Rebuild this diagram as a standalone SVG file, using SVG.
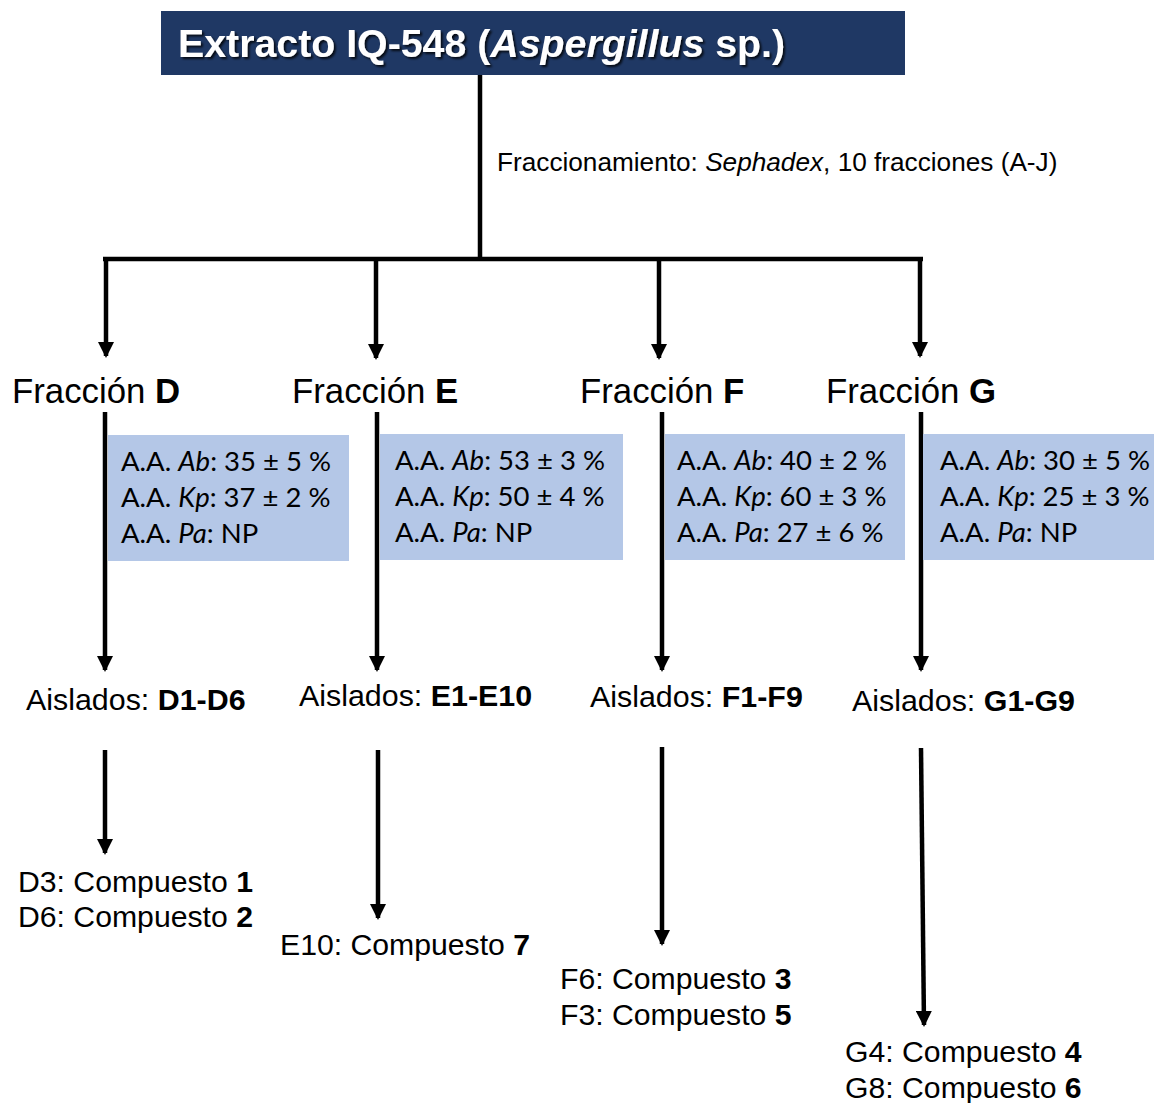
<svg xmlns="http://www.w3.org/2000/svg" width="1154" height="1103" viewBox="0 0 1154 1103">
<style>
.ar{font-family:"Liberation Sans",Arial,sans-serif;fill:#000}
.frac{font-size:34.8px}
.ais{font-size:30.4px}
.cmp{font-size:30.2px}
.box{fill:#b4c7e7}
.bt{font-family:Lato,"Open Sans",sans-serif;font-size:27.5px;fill:#000}
.ln{stroke:#000;stroke-width:4.5;fill:none}
</style>
<defs>
<marker id="ah" markerUnits="userSpaceOnUse" markerWidth="18" markerHeight="16" refX="14" refY="8" orient="auto">
<path d="M0,0 L16,8 L0,16 Z" fill="#000"/>
</marker>
<filter id="sh" x="-5%" y="-20%" width="110%" height="150%">
<feDropShadow dx="2" dy="2" stdDeviation="1.2" flood-color="#000" flood-opacity="0.8"/>
</filter>
</defs>
<rect width="1154" height="1103" fill="#fff"/>
<g id="connectors">
<line class="ln" x1="480" y1="75" x2="480" y2="259"/>
<line class="ln" x1="103" y1="259" x2="923" y2="259"/>
<line class="ln" x1="106" y1="257" x2="106" y2="356" marker-end="url(#ah)"/>
<line class="ln" x1="376" y1="257" x2="376" y2="358" marker-end="url(#ah)"/>
<line class="ln" x1="659" y1="257" x2="659" y2="358" marker-end="url(#ah)"/>
<line class="ln" x1="920" y1="257" x2="920" y2="356" marker-end="url(#ah)"/>
<line class="ln" x1="105" y1="412" x2="105" y2="670" marker-end="url(#ah)"/>
<line class="ln" x1="377" y1="412" x2="377" y2="670" marker-end="url(#ah)"/>
<line class="ln" x1="662" y1="412" x2="662" y2="670" marker-end="url(#ah)"/>
<line class="ln" x1="921" y1="412" x2="921" y2="670" marker-end="url(#ah)"/>
<line class="ln" x1="105" y1="750" x2="105" y2="853" marker-end="url(#ah)"/>
<line class="ln" x1="378" y1="750" x2="378" y2="918" marker-end="url(#ah)"/>
<line class="ln" x1="662" y1="747" x2="662" y2="944" marker-end="url(#ah)"/>
<line class="ln" x1="921" y1="748" x2="924" y2="1025" marker-end="url(#ah)"/>
<text class="ar" x="497" y="171" font-size="26.2">Fraccionamiento: <tspan font-style="italic">Sephadex</tspan>, 10 fracciones (A-J)</text>
</g>
<g id="title">
<rect x="161" y="11" width="744" height="64" fill="#1f3864"/>
<text x="178" y="57" font-family="Liberation Sans,Arial,sans-serif" font-size="39.3" font-weight="bold" fill="#fff" filter="url(#sh)">Extracto IQ-548 (<tspan font-style="italic">Aspergillus</tspan> sp.)</text>
</g>
<g id="boxes">
<rect class="box" x="108" y="435" width="241" height="126"/>
<rect class="box" x="380" y="434" width="243" height="126"/>
<rect class="box" x="665" y="434" width="240" height="126"/>
<rect class="box" x="923" y="434" width="231" height="126"/>
</g>
<g id="node-D">
<text class="ar frac" x="12" y="403">Fracción <tspan font-weight="bold">D</tspan></text>
<text class="bt" x="121" y="471">A.A. <tspan font-style="italic">Ab</tspan>: 35 ± 5 %</text>
<text class="bt" x="121" y="507">A.A. <tspan font-style="italic">Kp</tspan>: 37 ± 2 %</text>
<text class="bt" x="121" y="543">A.A. <tspan font-style="italic">Pa</tspan>: NP</text>
<text class="ar ais" x="26" y="710">Aislados: <tspan font-weight="bold">D1-D6</tspan></text>
<text class="ar cmp" x="18" y="892">D3: Compuesto <tspan font-weight="bold">1</tspan></text>
<text class="ar cmp" x="18" y="927">D6: Compuesto <tspan font-weight="bold">2</tspan></text>
</g>
<g id="node-E">
<text class="ar frac" x="292" y="403">Fracción <tspan font-weight="bold">E</tspan></text>
<text class="bt" x="395" y="470">A.A. <tspan font-style="italic">Ab</tspan>: 53 ± 3 %</text>
<text class="bt" x="395" y="506">A.A. <tspan font-style="italic">Kp</tspan>: 50 ± 4 %</text>
<text class="bt" x="395" y="542">A.A. <tspan font-style="italic">Pa</tspan>: NP</text>
<text class="ar ais" x="299" y="706">Aislados: <tspan font-weight="bold">E1-E10</tspan></text>
<text class="ar cmp" x="280" y="955">E10: Compuesto <tspan font-weight="bold">7</tspan></text>
</g>
<g id="node-F">
<text class="ar frac" x="580" y="403">Fracción <tspan font-weight="bold">F</tspan></text>
<text class="bt" x="677" y="470">A.A. <tspan font-style="italic">Ab</tspan>: 40 ± 2 %</text>
<text class="bt" x="677" y="506">A.A. <tspan font-style="italic">Kp</tspan>: 60 ± 3 %</text>
<text class="bt" x="677" y="542">A.A. <tspan font-style="italic">Pa</tspan>: 27 ± 6 %</text>
<text class="ar ais" x="590" y="707">Aislados: <tspan font-weight="bold">F1-F9</tspan></text>
<text class="ar cmp" x="560" y="989">F6: Compuesto <tspan font-weight="bold">3</tspan></text>
<text class="ar cmp" x="560" y="1025">F3: Compuesto <tspan font-weight="bold">5</tspan></text>
</g>
<g id="node-G">
<text class="ar frac" x="826" y="403">Fracción <tspan font-weight="bold">G</tspan></text>
<text class="bt" x="940" y="470">A.A. <tspan font-style="italic">Ab</tspan>: 30 ± 5 %</text>
<text class="bt" x="940" y="506">A.A. <tspan font-style="italic">Kp</tspan>: 25 ± 3 %</text>
<text class="bt" x="940" y="542">A.A. <tspan font-style="italic">Pa</tspan>: NP</text>
<text class="ar ais" x="852" y="711">Aislados: <tspan font-weight="bold">G1-G9</tspan></text>
<text class="ar cmp" x="845" y="1062">G4: Compuesto <tspan font-weight="bold">4</tspan></text>
<text class="ar cmp" x="845" y="1098">G8: Compuesto <tspan font-weight="bold">6</tspan></text>
</g>
</svg>
